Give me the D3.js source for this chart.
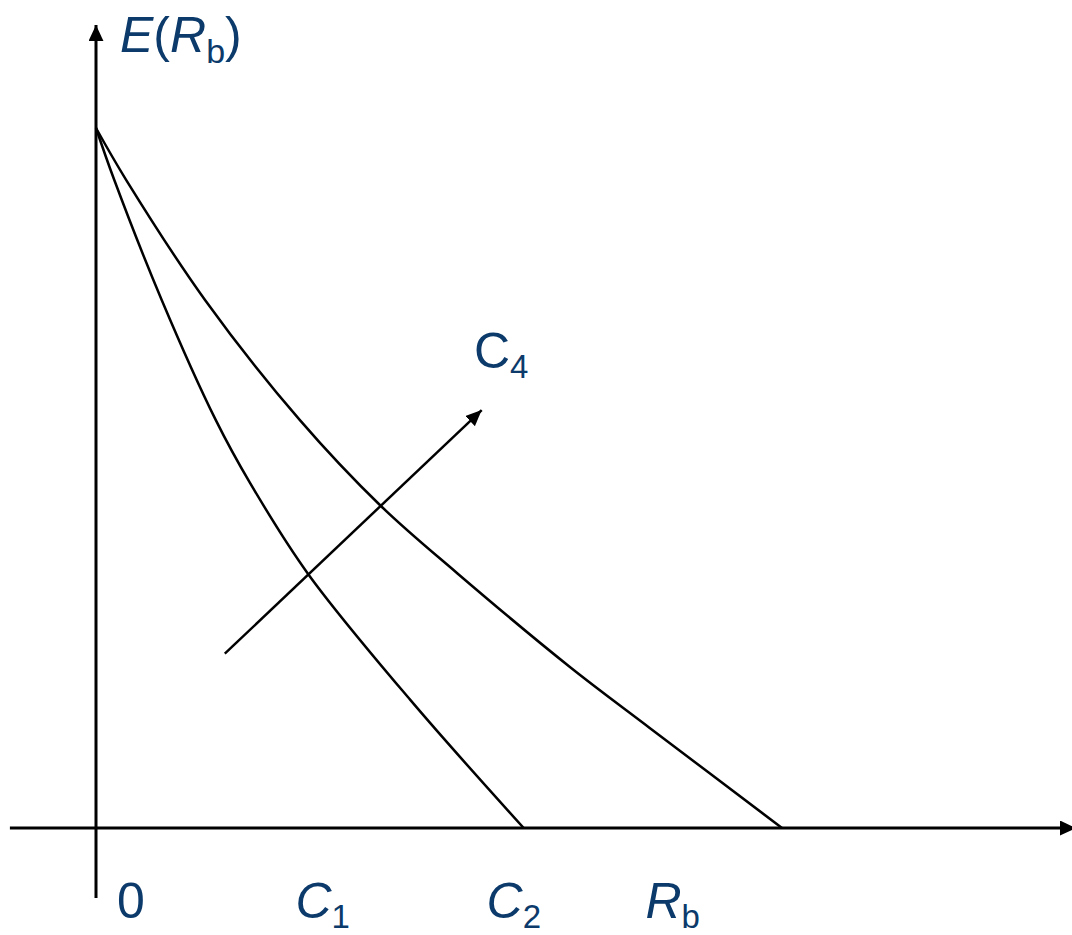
<!DOCTYPE html>
<html>
<head>
<meta charset="utf-8">
<script src="https://cdn.jsdelivr.net/npm/d3@7"></script>
<style>
  html, body { margin: 0; padding: 0; background: #fff; }
  svg { display: block; }
  .lbl { font-family: "Liberation Sans", Arial, sans-serif; fill: #0b3a6b; font-size: 50px; }
</style>
</head>
<body>
<div id="chart"></div>
<script>
// curve points (x, E(Rb)), in diagram units
const innerCurve = [[0, 10], [0.26, 9.26], [0.94, 7.54], [1.71, 5.83], [2.2, 4.93], [3.03, 3.63], [4.49, 1.83], [6.11, 0]];
const outerCurve = [[0, 10], [0.43, 9.26], [1.56, 7.54], [2.91, 5.83], [4.07, 4.6], [5.16, 3.64], [6.77, 2.3], [7.91, 1.43], [9.8, 0]];
const shiftArrow = [[1.84, 2.49], [5.51, 5.97]];
const xTicks = [
  { x: 0.3, main: "0", sub: "", italic: false },
  { x: 2.85, main: "C", sub: "1", italic: true },
  { x: 5.58, main: "C", sub: "2", italic: true },
  { x: 7.85, main: "R", sub: "b", italic: true }
];

const W = 1072, H = 935;
const svg = d3.select("#chart").append("svg")
  .attr("width", W)
  .attr("height", H);

const x = d3.scaleLinear().domain([0, 14]).range([96, 1076]);
const y = d3.scaleLinear().domain([0, 10]).range([828, 128]);

// arrow heads
const defs = svg.append("defs");
function marker(id, len, wid) {
  defs.append("marker")
    .attr("id", id)
    .attr("markerUnits", "userSpaceOnUse")
    .attr("viewBox", `0 0 ${len} ${wid}`)
    .attr("refX", len).attr("refY", wid / 2)
    .attr("markerWidth", len).attr("markerHeight", wid)
    .attr("orient", "auto")
    .append("path")
    .attr("d", `M0,0L${len},${wid / 2}L0,${wid}Z`)
    .attr("fill", "#000");
}
marker("axisHead", 16, 15);
marker("shiftHead", 16, 14);

// axes
svg.append("line")
  .attr("x1", x(0)).attr("y1", y(-1))
  .attr("x2", x(0)).attr("y2", y(11.47))
  .attr("stroke", "#000").attr("stroke-width", 3)
  .attr("marker-end", "url(#axisHead)");
svg.append("line")
  .attr("x1", x(-1.23)).attr("y1", y(0))
  .attr("x2", x(14)).attr("y2", y(0))
  .attr("stroke", "#000").attr("stroke-width", 3)
  .attr("marker-end", "url(#axisHead)");

// curves
const line = d3.line()
  .x(d => x(d[0]))
  .y(d => y(d[1]))
  .curve(d3.curveCatmullRom.alpha(0.5));

[innerCurve, outerCurve].forEach(c => {
  svg.append("path")
    .datum(c)
    .attr("d", line)
    .attr("fill", "none")
    .attr("stroke", "#000")
    .attr("stroke-width", 2.5);
});

// shift arrow
svg.append("line")
  .attr("x1", x(shiftArrow[0][0])).attr("y1", y(shiftArrow[0][1]))
  .attr("x2", x(shiftArrow[1][0])).attr("y2", y(shiftArrow[1][1]))
  .attr("stroke", "#000").attr("stroke-width", 2.5)
  .attr("marker-end", "url(#shiftHead)");

// labels
function label(px, py, main, sub, italic) {
  const t = svg.append("text")
    .attr("class", "lbl")
    .attr("x", px).attr("y", py)
    .style("font-style", italic ? "italic" : "normal");
  t.append("tspan").text(main);
  if (sub) {
    t.append("tspan")
      .attr("dy", 10)
      .style("font-size", "33px")
      .style("font-style", "normal")
      .text(sub);
  }
  return t;
}

// y axis title E(Rb)
const yt = svg.append("text")
  .attr("class", "lbl")
  .attr("x", x(0) + 24).attr("y", 52);
yt.append("tspan").style("font-style", "italic").text("E");
yt.append("tspan").text("(");
yt.append("tspan").style("font-style", "italic").text("R");
yt.append("tspan").attr("dy", 11).style("font-size", "34px").text("b");
yt.append("tspan").attr("dy", -11).text(")");

// shift label
label(x(5.4), 368, "C", "4", false);

// x axis labels
xTicks.forEach(d => label(x(d.x), 918, d.main, d.sub, d.italic));
</script>
</body>
</html>
